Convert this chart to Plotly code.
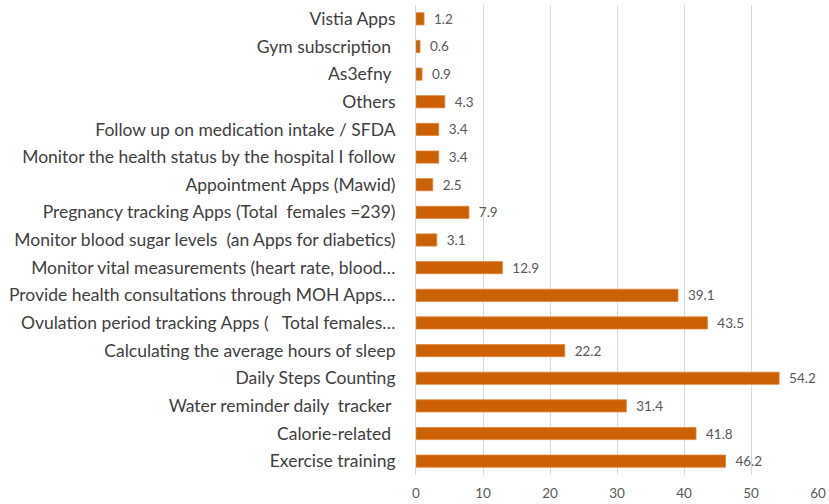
import plotly.graph_objects as go

NB = "\u00a0"

categories = [
    "Exercise training",
    "Calorie-related" + NB,
    "Water reminder daily" + NB + " tracker" + NB,
    "Daily Steps Counting",
    "Calculating the average hours of sleep",
    "Ovulation period tracking Apps (" + NB + NB + " Total females…",
    "Provide health consultations through MOH Apps…",
    "Monitor vital measurements (heart rate, blood…",
    "Monitor blood sugar levels" + NB + " (an Apps for diabetics)",
    "Pregnancy tracking Apps (Total" + NB + " females =239)",
    "Appointment Apps (Mawid)",
    "Monitor the health status by the hospital I follow",
    "Follow up on medication intake / SFDA",
    "Others",
    "As3efny" + NB,
    "Gym subscription" + NB,
    "Vistia Apps",
]
values = [46.2, 41.8, 31.4, 54.2, 22.2, 43.5, 39.1, 12.9, 3.1, 7.9, 2.5, 3.4, 3.4, 4.3, 0.9, 0.6, 1.2]
x_ticks = [0, 10, 20, 30, 40, 50, 60]

fig = go.Figure(go.Bar(
    x=values,
    y=categories,
    orientation="h",
    marker=dict(color="#CB6004", line=dict(color="#E2853A", width=0.8)),
    text=[NB * 2 + f"{v:.1f}" for v in values],
    textposition="outside",
    constraintext="none",
    textfont=dict(family="Lato", size=13.5, color="#595959"),
    cliponaxis=False,
))

fig.update_layout(
    width=829,
    height=504,
    margin=dict(l=416, r=11, t=5, b=29),
    paper_bgcolor="white",
    plot_bgcolor="white",
    bargap=0.56,
    showlegend=False,
    font=dict(family="Lato", color="#404040"),
)
fig.update_xaxes(
    range=[0, 60],
    tickvals=x_ticks,
    showgrid=True,
    gridcolor="#D9D9D9",
    gridwidth=1,
    zeroline=False,
    showline=False,
    ticks="outside",
    ticklen=6,
    tickcolor="rgba(0,0,0,0)",
    tickfont=dict(family="Lato", size=13.5, color="#595959"),
    automargin=False,
    fixedrange=True,
)
fig.update_yaxes(
    categoryorder="array",
    categoryarray=categories,
    range=[-0.5, 16.5],
    showline=True,
    linecolor="#D9D9D9",
    linewidth=1,
    ticks="outside",
    ticklen=16,
    tickcolor="rgba(0,0,0,0)",
    tickfont=dict(family="Lato", size=17.5, color="#404040"),
    automargin=False,
    fixedrange=True,
)

fig.write_html("out.html", config={"displayModeBar": False},
               post_script="document.body.style.margin='0px';")
